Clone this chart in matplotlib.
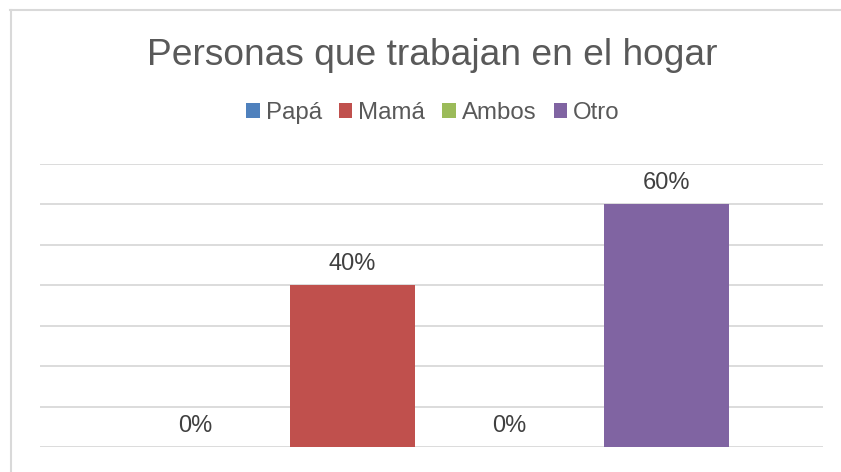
import matplotlib
matplotlib.use("Agg")
import matplotlib.pyplot as plt
from matplotlib.patches import Patch

plt.rcParams['font.family'] = ['Liberation Sans', 'DejaVu Sans']

categories = ["Papá", "Mamá", "Ambos", "Otro"]
values = [0, 40, 0, 60]
labels = ["0%", "40%", "0%", "60%"]
colors = ["#4F81BD", "#C0504D", "#9BBB59", "#8064A2"]
title = "Personas que trabajan en el hogar"

W, H = 841, 472
fig = plt.figure(figsize=(W / 100, H / 100), dpi=100)
fig.patch.set_facecolor("white")

# outer border (top and left visible)
fig.add_artist(plt.Line2D([10 / W, 840 / W], [1 - 9.5 / H, 1 - 9.5 / H], color="#D9D9D9", lw=1.5, transform=fig.transFigure))
fig.add_artist(plt.Line2D([10.5 / W, 10.5 / W], [0, 1 - 9.5 / H], color="#D9D9D9", lw=1.5, transform=fig.transFigure))

left, right, bottom, top = 40, 823, 447, 164
ax = fig.add_axes([left / W, 1 - bottom / H, (right - left) / W, (bottom - top) / H])

x = list(range(len(categories)))
bars = ax.bar(x, values, width=0.796, color=colors, zorder=3)
ax.set_xlim(-0.99, 3.997)
ax.set_ylim(0, 70)
ax.set_yticks(range(0, 71, 10))
ax.yaxis.grid(True, color="#D9D9D9", lw=1.3, zorder=0)
ax.tick_params(left=False, bottom=False, labelleft=False, labelbottom=False)
for s in ax.spines.values():
    s.set_visible(False)

for xi, v, lab in zip(x, values, labels):
    ax.annotate(lab, (xi, v), xytext=(0, 10.8), textcoords="offset points",
                ha="center", va="baseline", fontsize=17, color="#404040")

fig.text(432 / W, 1 - 65 / H, title, ha="center", va="baseline", fontsize=26.7, color="#595959")

handles = [Patch(facecolor=c, edgecolor="none") for c in colors]
leg = fig.legend(handles, categories, loc="center", bbox_to_anchor=(433 / W, 1 - 113 / H), ncol=4,
                 frameon=False, fontsize=17.3, handlelength=0.56, handleheight=0.56,
                 handletextpad=0.25, columnspacing=0.71, borderpad=0, borderaxespad=0)
for t in leg.get_texts():
    t.set_color("#595959")

fig.savefig("out.png", dpi=100)
